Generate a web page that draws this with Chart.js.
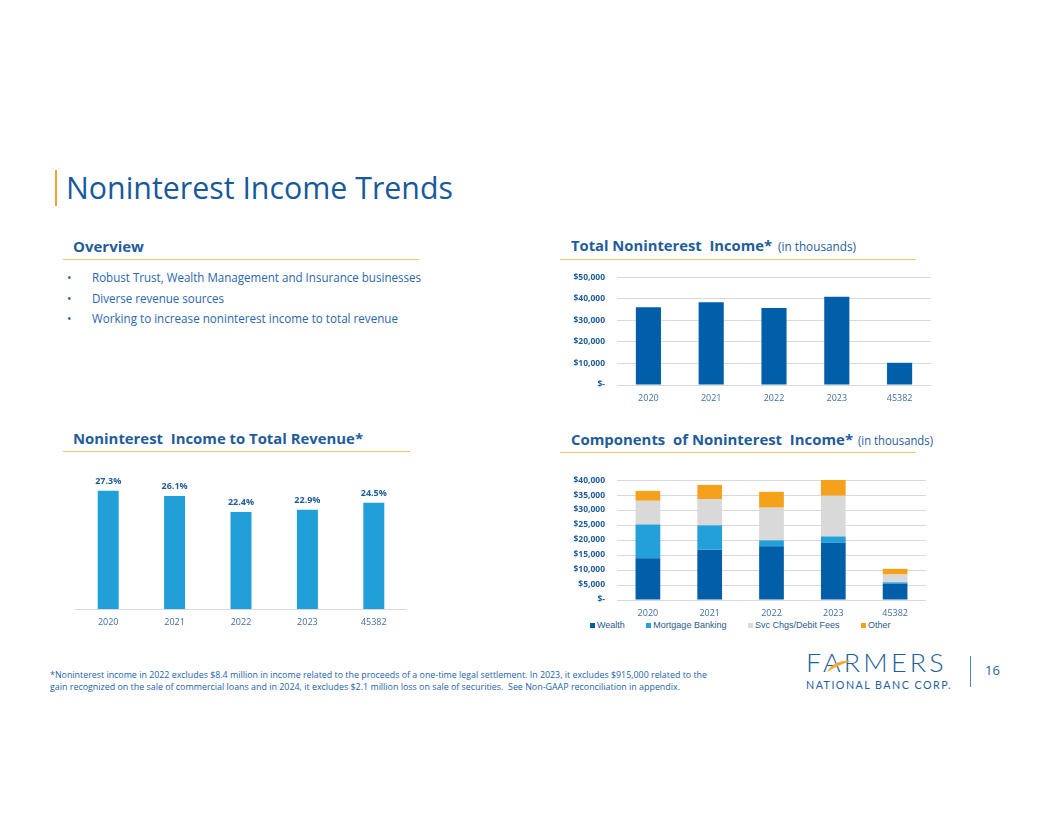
<!DOCTYPE html>
<html>
<head>
<meta charset="utf-8">
<title>Noninterest Income Trends</title>
<script src="https://cdn.jsdelivr.net/npm/chart.js@4.4.1/dist/chart.umd.min.js"></script>
<style>
    html, body { margin: 0; padding: 0; background: #ffffff; }
    body { width: 1056px; height: 816px; position: relative; overflow: hidden;
           font-family: "Open Sans", sans-serif; color: #1f5c99; }
    .abs { position: absolute; white-space: nowrap; }
    .fit { display: inline-block; transform-origin: left center; }
    .rule { position: absolute; height: 1.5px; background: #f6c46f; }
    .heading { font-weight: bold; font-size: 15px; line-height: 15px; color: #1f5c99; }
    .note { font-size: 12px; line-height: 12px; color: #1f5c99; }
    .bullet { font-size: 12px; line-height: 12px; color: #2a66ad; }
    .box { position: absolute; }
    .legend { position: absolute; display: flex; align-items: center; font-family: "Liberation Sans", Arial, sans-serif;
              font-size: 9px; line-height: 9px; color: #2c5a8c; }
    .legend span.mark { display: inline-block; width: 5px; height: 5px; margin-right: 2px; }
    .legend .item { display: flex; align-items: center; margin-right: 21.5px; }
    .foot { font-size: 8.6px; line-height: 9px; color: #2363aa; }
    .logo { font-family: Lato, "Open Sans", sans-serif; color: #1f5f9e; }
</style>
</head>
<body>

<!-- slide title -->
<div class="abs" style="left:55px; top:170px; width:2px; height:36px; background:#f0a52c;"></div>
<div class="abs" style="left:66px; top:172px; font-size:31px; line-height:31px; color:#175a9c;">
    <span class="fit" id="slideTitle">Noninterest Income Trends</span>
</div>

<!-- overview -->
<div class="abs heading" style="left:73px; top:239px;">Overview</div>
<div class="rule" style="left:63px; top:258.5px; width:356px;"></div>
<div class="abs bullet" style="left:67px; top:272px;">•</div>
<div class="abs bullet" style="left:92px; top:272px;"><span class="fit" id="b1">Robust Trust, Wealth Management and Insurance businesses</span></div>
<div class="abs bullet" style="left:67px; top:292.5px;">•</div>
<div class="abs bullet" style="left:92px; top:292.5px;"><span class="fit" id="b2">Diverse revenue sources</span></div>
<div class="abs bullet" style="left:67px; top:312.5px;">•</div>
<div class="abs bullet" style="left:92px; top:312.5px;"><span class="fit" id="b3">Working to increase noninterest income to total revenue</span></div>

<!-- section headings -->
<div class="abs heading" style="left:571px; top:238px;"><span class="fit" id="h1">Total Noninterest&nbsp; Income*</span></div>
<div class="abs note" style="left:778px; top:240.5px;"><span class="fit" id="n1">(in thousands)</span></div>
<div class="rule" style="left:560px; top:258.5px; width:356px;"></div>

<div class="abs heading" style="left:73px; top:431px;"><span class="fit" id="h2">Noninterest&nbsp; Income to Total Revenue*</span></div>
<div class="rule" style="left:63px; top:450.5px; width:347px;"></div>

<div class="abs heading" style="left:571px; top:432px;"><span class="fit" id="h3">Components&nbsp; of Noninterest&nbsp; Income*</span></div>
<div class="abs note" style="left:858px; top:434.5px;"><span class="fit" id="n2">(in thousands)</span></div>
<div class="rule" style="left:560px; top:451.5px; width:356px;"></div>

<!-- charts -->
<div class="box" style="left:560px; top:260px; width:371px; height:145px;"><canvas id="totalChart"></canvas></div>
<div class="box" style="left:75px; top:470px; width:332px; height:164px;"><canvas id="shareChart"></canvas></div>
<div class="box" style="left:560px; top:463px; width:366px; height:157px;"><canvas id="componentChart"></canvas></div>
<div class="legend" id="componentLegend" style="left:590px; top:620.5px;"></div>

<!-- footnote -->
<div class="abs foot" style="left:50px; top:670.5px;"><span class="fit" id="f1">*Noninterest income in 2022 excludes $8.4 million in income related to the proceeds of a one-time legal settlement. In 2023, it excludes $915,000 related to the</span></div>
<div class="abs foot" style="left:50px; top:682.5px;"><span class="fit" id="f2">gain recognized on the sale of commercial loans and in 2024, it excludes $2.1 million loss on sale of securities.&nbsp; See Non-GAAP reconciliation in appendix.</span></div>

<!-- logo and page number -->
<div class="abs logo" style="left:806px; top:652px; font-size:25px; line-height:20px; font-weight:300; letter-spacing:3px;"><span class="fit" id="logoMain">FARMERS</span></div>
<svg class="abs" style="left:826px; top:657px;" width="26" height="16" viewBox="0 0 26 16">
    <path d="M1 15 C6 7, 13 3, 25 4 C16 7, 9 10, 1 15 Z" fill="#f3a93a"/>
</svg>
<div class="abs logo" style="left:806px; top:678.5px; font-size:11px; line-height:11px; letter-spacing:1.5px;"><span class="fit" id="logoSub">NATIONAL BANC CORP.</span></div>
<div class="abs" style="left:970px; top:656px; width:1px; height:31px; background:#5a84b5;"></div>
<div class="abs" style="left:985px; top:664px; font-size:13px; line-height:13px; color:#1f5f9e;">16</div>

<script>
    // chart values
    var years = ['2020', '2021', '2022', '2023', '45382'];
    var totalIncome = [36000, 38300, 35700, 40900, 10300];
    var revenueShare = [27.3, 26.1, 22.4, 22.9, 24.5];

    var componentNames = ['Wealth', 'Mortgage Banking', 'Svc Chgs/Debit Fees', 'Other'];
    var wealth = [13900, 16800, 17900, 19100, 5400];
    var mortgageBanking = [11300, 8100, 2000, 2100, 500];
    var svcChgsDebitFees = [7900, 8800, 10900, 13600, 2600];
    var otherIncome = [3300, 4700, 5300, 5500, 1900];

    var darkBlue = '#005fa8';
    var lightBlue = '#219fd8';
    var componentColors = [darkBlue, '#23a0d9', '#d9d9d9', '#f5a11c'];
    var tickColor = '#3f6ea5';
    var valueColor = '#1f5c99';
    var gridColor = '#d9d9d9';

    Chart.defaults.font.family = '"Open Sans", sans-serif';
    Chart.defaults.animation = false;

    /**
     * Format dollar axis ticks ($- for zero)
     */
    function dollarTick(value) {
        if (value === 0) {
            return '$-';
        }
        return '$' + value.toLocaleString('en-US');
    }

    // draws the percentage above each bar
    var shareLabels = {
        id: 'shareLabels',
        afterDatasetsDraw: function(chart) {
            var ctx = chart.ctx;
            var meta = chart.getDatasetMeta(0);
            ctx.save();
            ctx.font = 'bold 9px "Open Sans", sans-serif';
            ctx.fillStyle = valueColor;
            ctx.textAlign = 'center';
            ctx.textBaseline = 'middle';
            meta.data.forEach(function(bar, i) {
                ctx.fillText(revenueShare[i].toFixed(1) + '%', bar.x, bar.y - 9);
            });
            ctx.restore();
        }
    };

    var xTicks = { color: tickColor, font: { size: 9 }, padding: 8 };
    var xGrid = { display: false, drawTicks: false };

    new Chart(document.getElementById('totalChart'), {
        type: 'bar',
        data: {
            labels: years,
            datasets: [{
                data: totalIncome,
                backgroundColor: darkBlue,
                barPercentage: 0.4,
                categoryPercentage: 1
            }]
        },
        options: {
            responsive: true,
            maintainAspectRatio: false,
            // the y tick padding already leaves the top margin
            layout: { padding: 0 },
            plugins: { legend: { display: false }, tooltip: { enabled: false } },
            scales: {
                x: {
                    grid: xGrid,
                    border: { display: false },
                    ticks: xTicks,
                    afterFit: function(scale) { scale.height = 20; }
                },
                y: {
                    min: 0,
                    max: 50000,
                    grid: { color: gridColor, drawTicks: false },
                    border: { display: false },
                    ticks: {
                        stepSize: 10000,
                        callback: dollarTick,
                        color: valueColor,
                        font: { size: 8.5, weight: 'bold' },
                        padding: 12
                    },
                    afterFit: function(scale) { scale.width = 57; }
                }
            }
        }
    });

    new Chart(document.getElementById('shareChart'), {
        type: 'bar',
        data: {
            labels: years,
            datasets: [{
                data: revenueShare,
                backgroundColor: lightBlue,
                barPercentage: 0.316,
                categoryPercentage: 1
            }]
        },
        options: {
            responsive: true,
            maintainAspectRatio: false,
            layout: { padding: { top: 9, left: 0, right: 0, bottom: 0 } },
            plugins: { legend: { display: false }, tooltip: { enabled: false } },
            scales: {
                x: {
                    grid: xGrid,
                    border: { display: true, color: gridColor, width: 1 },
                    ticks: xTicks,
                    afterFit: function(scale) { scale.height = 25; }
                },
                y: { display: false, min: 0, max: 30 }
            }
        },
        plugins: [shareLabels]
    });

    var componentSeries = [wealth, mortgageBanking, svcChgsDebitFees, otherIncome];

    new Chart(document.getElementById('componentChart'), {
        type: 'bar',
        data: {
            labels: years,
            datasets: componentSeries.map(function(series, i) {
                return {
                    label: componentNames[i],
                    data: series,
                    backgroundColor: componentColors[i],
                    barPercentage: 0.4,
                    categoryPercentage: 1
                };
            })
        },
        options: {
            responsive: true,
            maintainAspectRatio: false,
            layout: { padding: 0 },
            plugins: { legend: { display: false }, tooltip: { enabled: false } },
            scales: {
                x: {
                    stacked: true,
                    grid: xGrid,
                    border: { display: false },
                    ticks: xTicks,
                    afterFit: function(scale) { scale.height = 20; }
                },
                y: {
                    stacked: true,
                    min: 0,
                    max: 40000,
                    grid: { color: gridColor, drawTicks: false },
                    border: { display: false },
                    ticks: {
                        stepSize: 5000,
                        callback: dollarTick,
                        color: valueColor,
                        font: { size: 8.5, weight: 'bold' },
                        padding: 12
                    },
                    afterFit: function(scale) { scale.width = 57; }
                }
            }
        }
    });

    // legend for the stacked chart
    var legendBox = document.getElementById('componentLegend');
    componentNames.forEach(function(name, i) {
        var item = document.createElement('div');
        item.className = 'item';
        item.innerHTML = '<span class="mark" style="background:' + componentColors[i] + '"></span>' + name;
        legendBox.appendChild(item);
    });

    // squeeze text runs to the widths they have on the slide
    function fitWidth(id, target) {
        var el = document.getElementById(id);
        var w = el.getBoundingClientRect().width;
        if (w > 0) {
            el.style.transform = 'scaleX(' + (target / w) + ')';
        }
    }

    document.fonts.ready.then(function() {
        fitWidth('slideTitle', 387);
        fitWidth('b1', 329);
        fitWidth('b2', 132);
        fitWidth('b3', 306);
        fitWidth('h1', 201);
        fitWidth('n1', 78);
        fitWidth('h2', 290);
        fitWidth('h3', 282);
        fitWidth('n2', 75);
        fitWidth('f1', 657);
        fitWidth('f2', 630);
        fitWidth('logoMain', 141);
        fitWidth('logoSub', 146);
    });
</script>
</body>
</html>
